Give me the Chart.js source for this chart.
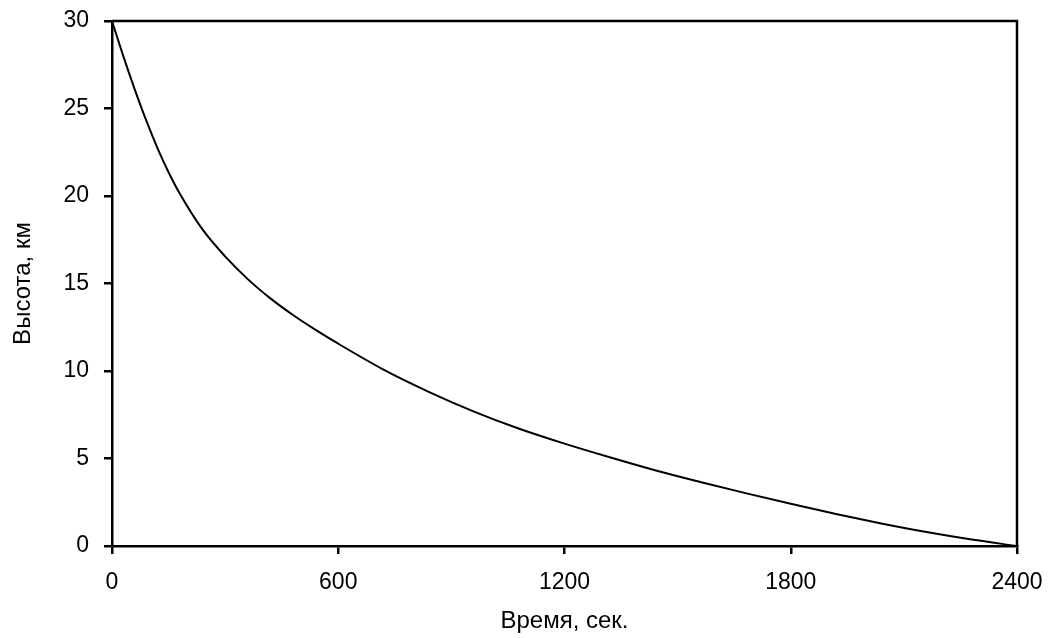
<!DOCTYPE html>
<html lang="ru">
<head>
  <meta charset="UTF-8">
  <title>Высота от времени</title>
  <script src="https://cdn.jsdelivr.net/npm/chart.js"></script>
  <style>
    html, body { margin: 0; padding: 0; background: #fff; }
    #wrap { width: 1049px; height: 638px; }
  </style>
</head>
<body>
  <div id="wrap"><canvas id="chart" width="1049" height="638"></canvas></div>
  <script>
    // time, seconds
    const times = [0, 30, 60, 90, 120, 150, 180, 240, 300, 360, 420, 480, 540, 600,
      720, 840, 960, 1080, 1200, 1320, 1440, 1560, 1680, 1800, 1920, 2040, 2160, 2280, 2400];
    // altitude, km
    const heights = [30, 27.99, 26.11, 24.36, 22.77, 21.36, 20.13, 18.09, 16.55, 15.25, 14.15, 13.2, 12.35, 11.56,
      10.08, 8.81, 7.68, 6.7, 5.85, 5.07, 4.33, 3.66, 3.02, 2.41, 1.83, 1.29, 0.8, 0.37, 0];
    const xTicks = [0, 600, 1200, 1800, 2400];
    const yTicks = [0, 5, 10, 15, 20, 25, 30];

    const font = 'Liberation Sans, Arial, sans-serif';

    // close the box: top and right edges of the plot
    const frame = {
      id: 'frame',
      afterDraw(chart) {
        const { ctx, chartArea: a } = chart;
        ctx.save();
        ctx.strokeStyle = '#000';
        ctx.lineWidth = 2.5;
        ctx.beginPath();
        ctx.moveTo(a.left, a.top);
        ctx.lineTo(a.right, a.top);
        ctx.lineTo(a.right, a.bottom);
        ctx.stroke();
        ctx.restore();
      }
    };

    new Chart(document.getElementById('chart'), {
      type: 'line',
      data: {
        datasets: [{
          data: times.map((t, i) => ({ x: t, y: heights[i] })),
          borderColor: '#000',
          borderWidth: 2,
          pointRadius: 0,
          cubicInterpolationMode: 'monotone',
          fill: false
        }]
      },
      options: {
        responsive: false,
        animation: false,
        layout: { padding: { top: 21, right: 0, left: 0, bottom: 0 } },
        plugins: { legend: { display: false }, tooltip: { enabled: false } },
        scales: {
          x: {
            type: 'linear',
            min: 0,
            max: 2400,
            afterBuildTicks: s => { s.ticks = xTicks.map(v => ({ value: v })); },
            afterFit: s => { s.height = 92; s.paddingRight = 32; },
            border: { display: true, color: '#000', width: 2.5 },
            grid: { drawOnChartArea: false, drawTicks: true, tickLength: 8, color: '#000', lineWidth: 2.5 },
            ticks: { color: '#000', padding: 15, maxRotation: 0, callback: v => String(v), font: { family: font, size: 23 } },
            title: {
              display: true,
              text: 'Время, сек.',
              color: '#000',
              padding: { top: 0, bottom: 2 },
              font: { family: font, size: 24 }
            }
          },
          y: {
            min: 0,
            max: 30,
            afterBuildTicks: s => { s.ticks = yTicks.map(v => ({ value: v })); },
            afterFit: s => { s.width = 112; s.paddingTop = 0; s.paddingBottom = 0; },
            border: { display: true, color: '#000', width: 2.5 },
            grid: { drawOnChartArea: false, drawTicks: true, tickLength: 8, color: '#000', lineWidth: 2.5 },
            ticks: { color: '#000', padding: 15, callback: v => String(v), font: { family: font, size: 23 } },
            title: {
              display: true,
              text: 'Высота, км',
              color: '#000',
              padding: { top: 9, bottom: 0 },
              font: { family: font, size: 24 }
            }
          }
        }
      },
      plugins: [frame]
    });
  </script>
</body>
</html>
